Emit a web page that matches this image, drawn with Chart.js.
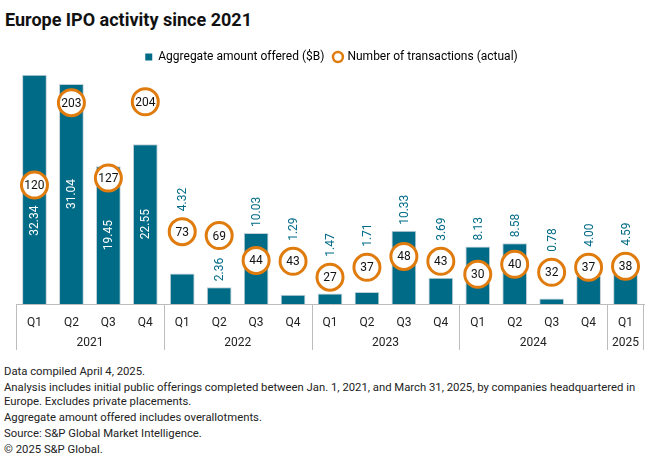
<!DOCTYPE html>
<html>
<head>
<meta charset="utf-8">
<script src="https://cdn.jsdelivr.net/npm/chart.js@4/dist/chart.umd.min.js"></script>
<style>
  body { margin: 0; background: #fff; font-family: Roboto, "Liberation Sans", sans-serif; color: #222; }
  #wrap { position: relative; width: 660px; height: 463px; overflow: hidden; }
  #title { position: absolute; left: 5px; top: 9px; font-size: 18px; font-weight: bold; color: #111; }
  #box { position: absolute; left: 0; top: 41px; width: 660px; height: 314px; }
  #notes { position: absolute; left: 4px; top: 365px; font-size: 11.3px; line-height: 14.7px; color: #222; }
  #notes p { margin: 0 0 1px 0; }
</style>
</head>
<body>
<div id="wrap">
  <div id="title">Europe IPO activity since 2021</div>
  <div id="box"><canvas id="myChart"></canvas></div>
  <div id="notes">
    <p>Data compiled April 4, 2025.</p>
    <p>Analysis includes initial public offerings completed between Jan. 1, 2021, and March 31, 2025, by companies headquartered in<br>Europe. Excludes private placements.</p>
    <p>Aggregate amount offered includes overallotments.</p>
    <p>Source: S&amp;P Global Market Intelligence.</p>
    <p>&copy; 2025 S&amp;P Global.</p>
  </div>
</div>
<script>
'use strict';

// ====================== DATA ======================//
let quarters = ['Q1', 'Q2', 'Q3', 'Q4', 'Q1', 'Q2', 'Q3', 'Q4', 'Q1', 'Q2', 'Q3', 'Q4', 'Q1', 'Q2', 'Q3', 'Q4', 'Q1'];
let years = ['2021', '2022', '2023', '2024', '2025'];
let quartersPerYear = [4, 4, 4, 4, 1];
let amountOffered = [32.34, 31.04, 19.45, 22.55, 4.32, 2.36, 10.03, 1.29, 1.47, 1.71, 10.33, 3.69, 8.13, 8.58, 0.78, 4.00, 4.59];
let transactions = [120, 203, 127, 204, 73, 69, 44, 43, 27, 37, 48, 43, 30, 40, 32, 37, 38];

let teal = '#006B86';
let orange = '#E07B0E';

// ====================== PLUGINS ======================//
// numbers inside circles + rotated bar labels
let labelPlugin = {
  id: 'labels',
  afterDatasetsDraw(chart) {
    let ctx = chart.ctx;
    let bars = chart.getDatasetMeta(0).data;
    let dots = chart.getDatasetMeta(1).data;
    let gap = 6;
    let r = 14.5;
    ctx.save();
    ctx.font = '12px Roboto, sans-serif';
    for (let i = 0; i < bars.length; i++) {
      let bar = bars[i];
      let dot = dots[i];
      let txt = amountOffered[i].toFixed(2);
      let len = ctx.measureText(txt).width;
      ctx.save();
      if (amountOffered[i] > 15) {
        // white label inside the bar, pushed below the circle if they overlap
        let c = (bar.y + bar.base) / 2;
        if (Math.abs(c - dot.y) < len / 2 + r + gap) {
          c = dot.y + r + gap + len / 2;
        }
        ctx.translate(bar.x, c);
        ctx.rotate(-Math.PI / 2);
        ctx.fillStyle = '#fff';
        ctx.textAlign = 'center';
      } else {
        let bottom = bar.y;
        if (dot.y - r < bar.y && bar.y - (dot.y + r) < len + 2 * gap) {
          bottom = dot.y - r;
        }
        ctx.translate(bar.x, bottom - gap);
        ctx.rotate(-Math.PI / 2);
        ctx.fillStyle = teal;
        ctx.textAlign = 'left';
      }
      ctx.textBaseline = 'middle';
      ctx.fillText(txt, 0, 1);
      ctx.restore();
    }
    ctx.fillStyle = '#111';
    ctx.textAlign = 'center';
    ctx.textBaseline = 'middle';
    for (let i = 0; i < dots.length; i++) {
      ctx.fillText(String(transactions[i]), dots[i].x, dots[i].y + 1);
    }
    ctx.restore();
  }
};

// year row under the quarters, with separators
let yearPlugin = {
  id: 'years',
  afterDraw(chart) {
    let ctx = chart.ctx;
    let x = chart.scales.x;
    let half = (x.getPixelForValue(1) - x.getPixelForValue(0)) / 2;
    let top = chart.chartArea.bottom;
    ctx.save();
    ctx.strokeStyle = '#bdbdbd';
    ctx.lineWidth = 1;
    ctx.font = '12px Roboto, sans-serif';
    ctx.fillStyle = '#222';
    ctx.textAlign = 'center';
    ctx.textBaseline = 'middle';
    let start = 0;
    for (let i = 0; i < years.length; i++) {
      let end = start + quartersPerYear[i] - 1;
      let left = x.getPixelForValue(start) - half;
      let right = x.getPixelForValue(end) + half;
      ctx.beginPath();
      ctx.moveTo(Math.round(left) + 0.5, top);
      ctx.lineTo(Math.round(left) + 0.5, top + 46);
      if (i === years.length - 1) {
        ctx.moveTo(Math.round(right) - 0.5, top);
        ctx.lineTo(Math.round(right) - 0.5, top + 46);
      }
      ctx.stroke();
      ctx.fillText(years[i], (left + right) / 2, top + 39);
      start = end + 1;
    }
    ctx.restore();
  }
};

// ====================== CHART ======================//
let chartObject = {
  type: 'bar',
  data: {
    labels: quarters,
    datasets: [{
      label: 'Aggregate amount offered ($B)',
      data: amountOffered,
      backgroundColor: teal,
      borderColor: '#c3d0d6',
      borderWidth: 1,
      barPercentage: 0.67,
      categoryPercentage: 1,
      yAxisID: 'y',
      order: 2
    }, {
      type: 'line',
      label: 'Number of transactions (actual)',
      data: transactions,
      showLine: false,
      pointRadius: 13,
      pointHoverRadius: 13,
      pointBorderWidth: 3,
      pointBackgroundColor: '#fff',
      pointBorderColor: orange,
      yAxisID: 'y2',
      order: 1
    }]
  },
  options: {
    responsive: true,
    maintainAspectRatio: false,
    animation: false,
    layout: { padding: { left: 12, right: 9, top: 0, bottom: 0 } },
    plugins: {
      tooltip: { enabled: false },
      legend: {
        position: 'top',
        labels: {
          font: { family: 'Roboto, sans-serif', size: 12 },
          color: '#222',
          usePointStyle: true,
          boxWidth: 7,
          boxHeight: 7,
          padding: 10,
          generateLabels: function () {
            return [
              { text: 'Aggregate amount offered ($B)', fillStyle: teal, strokeStyle: teal, lineWidth: 0, pointStyle: 'rect', datasetIndex: 0 },
              { text: 'Number of transactions (actual)', fillStyle: '#fff', strokeStyle: orange, lineWidth: 2.5, pointStyle: 'circle', datasetIndex: 1 }
            ];
          }
        }
      }
    },
    scales: {
      x: {
        grid: { display: false },
        border: { color: '#bdbdbd' },
        ticks: { color: '#222', font: { family: 'Roboto, sans-serif', size: 12 }, padding: 4, maxRotation: 0, autoSkip: false },
        afterFit: function (scale) { scale.height = 51; }
      },
      y: { display: false, min: 0, max: 32.6 },
      y2: { display: false, min: 0, max: 233 }
    }
  },
  plugins: [labelPlugin, yearPlugin]
};

let ctx = document.getElementById('myChart').getContext('2d');
let myChart = new Chart(ctx, chartObject);
</script>
</body>
</html>
